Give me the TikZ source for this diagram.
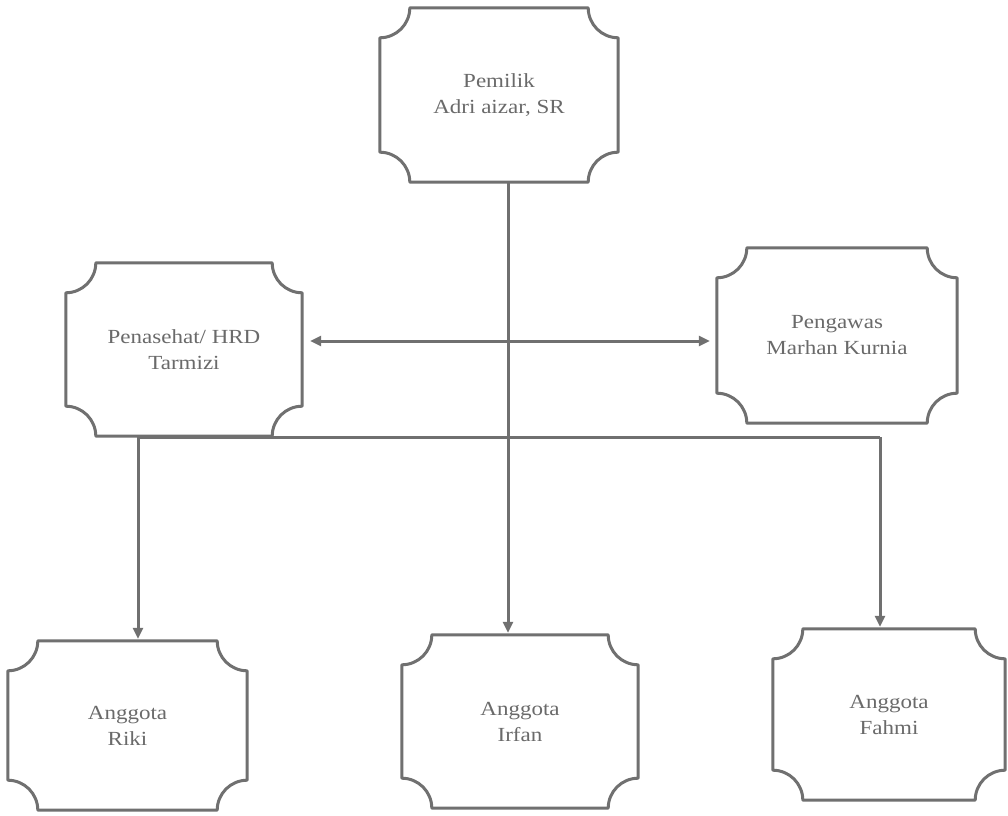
\documentclass[tikz,border=0pt]{standalone}
\usepackage{fontspec}
\setmainfont[FakeStretch=1.15]{Liberation Serif}
\usetikzlibrary{arrows.meta,calc}
\definecolor{linegray}{HTML}{707070}
\definecolor{textgray}{HTML}{6A6A6A}
\tikzset{
  plaque/.style={rectangle, draw=none, align=center, text=textgray,
    font=\fontsize{20}{26}\selectfont, inner sep=0pt},
  boxline/.style={draw=linegray, line width=3pt, line join=round},
  conn/.style={draw=linegray, line width=3pt},
  tip/.style={-{Triangle[length=11pt,width=10pt]}},
  dtip/.style={{Triangle[length=11pt,width=10pt]}-{Triangle[length=11pt,width=10pt]}}
}
\newcommand{\plaqueborder}[2]{%
  \draw[boxline]
    ($(#1.north west)+(#2,0)$) -- ($(#1.north east)+(-#2,0)$)
    arc[start angle=180, end angle=270, radius=#2]
    -- ($(#1.south east)+(0,#2)$)
    arc[start angle=90, end angle=180, radius=#2]
    -- ($(#1.south west)+(#2,0)$)
    arc[start angle=0, end angle=90, radius=#2]
    -- ($(#1.north west)+(0,-#2)$)
    arc[start angle=270, end angle=360, radius=#2] -- cycle;}
\begin{document}
\begin{tikzpicture}[x=1pt,y=1pt]
\useasboundingbox (0,0) rectangle (1008,815);
\fill[white] (0,0) rectangle (1008,815);

\node[plaque, minimum width=238pt, minimum height=174pt] (own) at (499,720) {Pemilik\\Adri aizar, SR};
\node[plaque, minimum width=236pt, minimum height=173pt] (adv) at (184,465.5) {Penasehat/ HRD\\Tarmizi};
\node[plaque, minimum width=240pt, minimum height=175pt] (sup) at (837,479.5) {Pengawas\\Marhan Kurnia};
\node[plaque, minimum width=239pt, minimum height=169pt] (a1) at (127.5,89.5) {Anggota\\Riki};
\node[plaque, minimum width=236pt, minimum height=173pt] (a2) at (520,93.5) {Anggota\\Irfan};
\node[plaque, minimum width=232pt, minimum height=171pt] (a3) at (889,100.5) {Anggota\\Fahmi};

\foreach \n in {own,adv,sup,a1,a2,a3} {\plaqueborder{\n}{30pt}}

\coordinate (jn) at (508,378);
\coordinate (bl) at (138,378);
\coordinate (br) at (880,378);

\draw[conn] (own.south -| jn) -- (jn);
\draw[conn, tip] (jn) -- ([yshift=2pt]a2.north -| jn);
\draw[conn] (bl) -- (br);
\draw[conn, tip] (bl) -- ([yshift=2pt]a1.north -| bl);
\draw[conn, tip] (br) -- ([yshift=2pt]a3.north -| br);
\draw[conn, dtip] ([shift={(8,8.5)}]adv.east) -- ([shift={(-7,-5.5)}]sup.west);
\end{tikzpicture}
\end{document}
